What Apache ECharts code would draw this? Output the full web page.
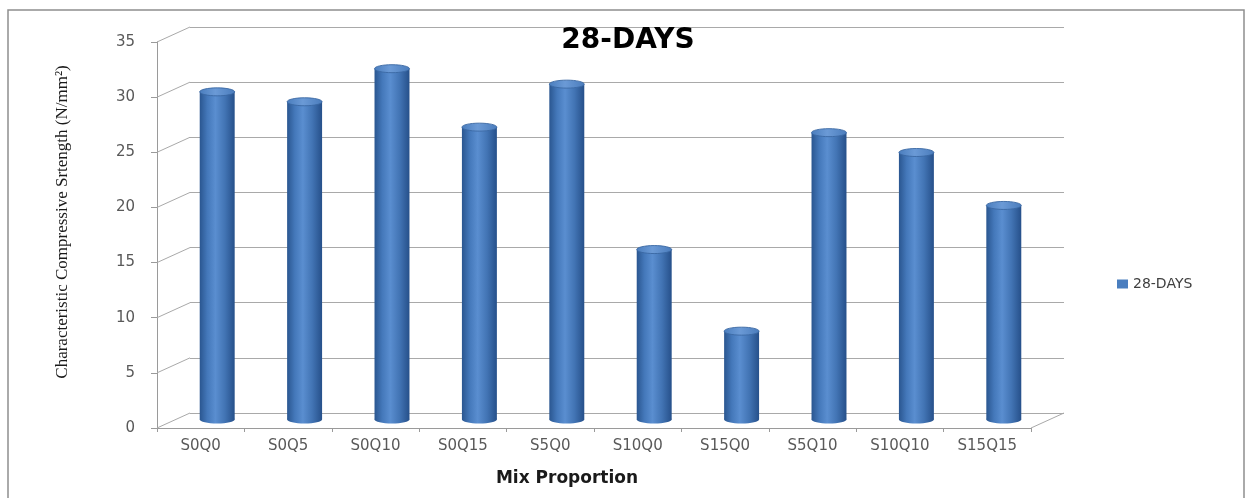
<!DOCTYPE html>
<html>
<head>
<meta charset="utf-8">
<title>28-DAYS Characteristic Compressive Strength</title>
<script src="https://cdn.jsdelivr.net/npm/echarts@6/dist/echarts.min.js"></script>
<style>
  html, body { margin: 0; padding: 0; background: #ffffff; }
  #chart { width: 1247px; height: 498px; }
</style>
</head>
<body>
<div id="chart"></div>
<script>
// Mix proportions and their 28-day characteristic compressive strength (N/mm²)
const categories = ['S0Q0', 'S0Q5', 'S0Q10', 'S0Q15', 'S5Q0', 'S10Q0', 'S15Q0', 'S5Q10', 'S10Q10', 'S15Q15'];
const strength28 = [29.8, 28.9, 31.9, 26.6, 30.5, 15.5, 8.1, 26.1, 24.3, 19.5];
const yTicks = [0, 5, 10, 15, 20, 25, 30, 35];
const seriesName = '28-DAYS';

// depth of the pseudo-3D box: back wall offset from the front axes (px)
const DEPTH = [33, -15];
const PLOT = { left: 157, top: 42, width: 874, height: 386 };

const chart = echarts.init(document.getElementById('chart'), null, { renderer: 'canvas' });

function gridAt(f) {
  return {
    left: PLOT.left + DEPTH[0] * f,
    top: PLOT.top + DEPTH[1] * f,
    width: PLOT.width,
    height: PLOT.height,
    containLabel: false
  };
}

const gridColor = '#a9a9a9';
const axisColor = '#9a9a9a';
const labelFont = '"DejaVu Sans", sans-serif';

const bodyGradient = new echarts.graphic.LinearGradient(0, 0, 1, 0, [
  { offset: 0, color: '#2a5690' },
  { offset: 0.22, color: '#4478ba' },
  { offset: 0.45, color: '#5a8ed0' },
  { offset: 0.72, color: '#4274b4' },
  { offset: 1, color: '#26508a' }
]);
const topGradient = new echarts.graphic.LinearGradient(0, 0, 1, 0, [
  { offset: 0, color: '#4a7dbd' },
  { offset: 0.45, color: '#6b9ad6' },
  { offset: 1, color: '#4a7cbc' }
]);

// cylinder: body + bottom cap + top cap, positioned through the axes
function renderCylinder(params, api) {
  const idx = api.value(0);
  const val = api.value(1);
  const top = api.coord([idx, val]);
  const base = api.coord([idx, 0]);
  const band = api.size([1, 0])[0];
  const w = band * 0.4;
  const rx = w / 2;
  const ry = 4;
  return {
    type: 'group',
    children: [
      { type: 'ellipse', shape: { cx: base[0], cy: base[1] - 1, rx: rx, ry: ry }, style: { fill: bodyGradient } },
      { type: 'rect', shape: { x: top[0] - rx, y: top[1], width: w, height: base[1] - 1 - top[1] }, style: { fill: bodyGradient } },
      { type: 'ellipse', shape: { cx: top[0], cy: top[1], rx: rx, ry: ry }, style: { fill: topGradient, stroke: '#3a68a3', lineWidth: 0.9 } }
    ]
  };
}

// slanted side-wall lines joining each front tick to its back-wall gridline,
// plus the right edge of the floor
function renderSideLines(params, api) {
  const v = api.value(1);
  const band = api.size([1, 0])[0];
  const p = api.coord([0, v]);
  const x0 = p[0] - band / 2;
  const children = [{
    type: 'line',
    shape: { x1: x0, y1: p[1], x2: x0 + DEPTH[0], y2: p[1] + DEPTH[1] },
    style: { stroke: gridColor, lineWidth: 1 }
  }];
  if (v === 0) {
    const q = api.coord([categories.length - 1, 0]);
    const x1 = q[0] + band / 2;
    children.push({
      type: 'line',
      shape: { x1: x1, y1: q[1], x2: x1 + DEPTH[0], y2: q[1] + DEPTH[1] },
      style: { stroke: gridColor, lineWidth: 1 }
    });
  }
  return { type: 'group', children: children };
}

const yBase = { type: 'value', min: 0, max: 35, interval: 5 };

const option = {
  backgroundColor: '#ffffff',
  animation: false,
  title: {
    text: '28-DAYS',
    left: 628,
    top: 27,
    textAlign: 'center',
    padding: 0,
    textStyle: { fontFamily: '"DejaVu Sans", sans-serif', fontWeight: 'bold', fontSize: 28, color: '#000000', lineHeight: 28 }
  },
  legend: {
    data: [seriesName],
    left: 1117,
    top: 277,
    padding: 0,
    icon: 'rect',
    itemWidth: 11,
    itemHeight: 9,
    itemGap: 5,
    textStyle: { fontFamily: labelFont, fontSize: 14, color: '#404040' }
  },
  grid: [gridAt(0), gridAt(1), gridAt(0.5)],
  xAxis: [
    {
      gridIndex: 0,
      type: 'category',
      data: categories,
      boundaryGap: true,
      axisLine: { show: true, lineStyle: { color: axisColor, width: 1 } },
      axisTick: { show: true, length: 4, lineStyle: { color: axisColor } },
      axisLabel: { margin: 11, fontFamily: labelFont, fontSize: 15, color: '#595959' },
      splitLine: { show: false }
    },
    { gridIndex: 1, type: 'category', data: categories, show: false },
    { gridIndex: 2, type: 'category', data: categories, show: false }
  ],
  yAxis: [
    Object.assign({}, yBase, {
      gridIndex: 0,
      axisLine: { show: true, lineStyle: { color: axisColor, width: 1 } },
      axisTick: { show: true, length: 6, lineStyle: { color: axisColor } },
      axisLabel: { margin: 22, fontFamily: labelFont, fontSize: 15, color: '#595959' },
      splitLine: { show: false }
    }),
    Object.assign({}, yBase, {
      gridIndex: 1,
      axisLine: { show: false },
      axisTick: { show: false },
      axisLabel: { show: false },
      splitLine: { show: true, lineStyle: { color: gridColor, width: 1 } }
    }),
    Object.assign({}, yBase, { gridIndex: 2, show: false })
  ],
  graphic: [
    {
      type: 'rect',
      shape: { x: 8, y: 10, width: 1236, height: 500 },
      style: { fill: 'none', stroke: '#8f8f8f', lineWidth: 1.5 },
      silent: true
    },
    {
      type: 'text',
      x: 63,
      y: 222,
      rotation: Math.PI / 2,
      style: {
        text: 'Characteristic Compressive Srtength (N/mm²)',
        font: '17px "Liberation Serif", serif',
        fill: '#1a1a1a',
        align: 'center',
        verticalAlign: 'middle',
        textAlign: 'center',
        textVerticalAlign: 'middle'
      }
    },
    {
      type: 'text',
      x: 567,
      y: 479,
      style: {
        text: 'Mix Proportion',
        font: 'bold 17px "DejaVu Sans", sans-serif',
        fill: '#1a1a1a',
        align: 'center',
        verticalAlign: 'middle',
        textAlign: 'center',
        textVerticalAlign: 'middle'
      }
    }
  ],
  series: [
    {
      name: 'side-walls',
      type: 'custom',
      xAxisIndex: 0,
      yAxisIndex: 0,
      silent: true,
      z: 1,
      renderItem: renderSideLines,
      data: yTicks.map(function (v) { return [0, v]; }),
      encode: { x: 0, y: 1 }
    },
    {
      name: seriesName,
      type: 'custom',
      xAxisIndex: 2,
      yAxisIndex: 2,
      z: 3,
      itemStyle: { color: '#4a7ebf' },
      renderItem: renderCylinder,
      data: strength28.map(function (v, i) { return [i, v]; }),
      encode: { x: 0, y: 1 }
    }
  ]
};

chart.setOption(option);
</script>
</body>
</html>
